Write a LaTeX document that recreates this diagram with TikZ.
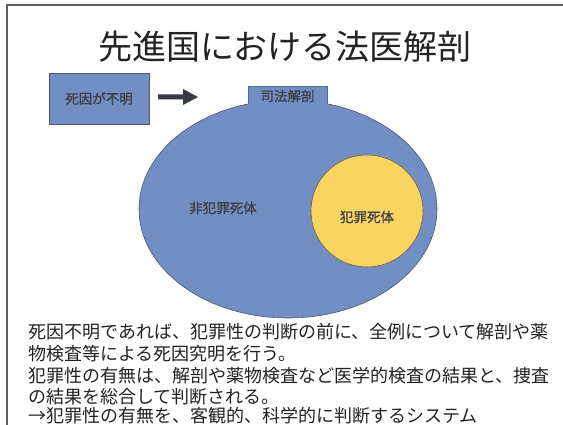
\documentclass[tikz,border=0pt]{standalone}
\usepackage{fontspec}
\setmainfont{Noto Sans CJK JP}
\newfontfamily\lblfont[FakeBold=1.2]{Noto Sans CJK JP}
\usetikzlibrary{shapes.geometric}
\definecolor{boxblue}{RGB}{114,142,194}
\definecolor{boxline}{RGB}{75,88,112}
\definecolor{crimeyellow}{RGB}{250,212,96}
\definecolor{yellowline}{RGB}{110,100,60}
\definecolor{labelgray}{RGB}{62,64,74}
\definecolor{framegray}{RGB}{95,95,95}
\definecolor{bodyink}{RGB}{35,35,35}
\tikzset{
  lbl/.style={text=labelgray, font=\lblfont\fontsize{13.5}{15}\selectfont, inner sep=0pt},
  bodyline/.style={anchor=west, text=bodyink, font=\fontsize{18}{20}\selectfont, inner sep=0pt},
}
\begin{document}
\begin{tikzpicture}[x=1pt,y=-1pt]
\useasboundingbox (0,0) rectangle (563,425);
\fill[white] (0,0) rectangle (563,425);
% frame
\draw[framegray, line width=2pt] (7,426) -- (7,5) -- (564,5);
% title
\node[text=bodyink, font=\fontsize{34}{38}\selectfont, inner sep=0pt] (title) at (285,47) {先進国における法医解剖};
% box
\node[draw=boxline, line width=0.6pt, fill=boxblue, minimum width=100pt, minimum height=51pt, inner sep=0pt] (unknown) at (99,98.5) {};
\node[lbl] (unknownlbl) at (unknown.center) {死因が不明};
% arrow
\fill[labelgray!90!black] (158,94.5) -- (183,94.5) -- (183,89) -- (198,97) -- (183,105) -- (183,99.5) -- (158,99.5) -- cycle;
% ellipse
\node[ellipse, draw=boxline, line width=0.6pt, fill=boxblue, minimum width=298pt, minimum height=218pt, inner sep=0pt] (noncrime) at (288,209) {};
% tab
\fill[boxblue] (248,86) rectangle (327,107);
\draw[boxline!70!boxblue, line width=0.5pt] (248,104) -- (248,86) -- (327,86) -- (327,104);
\node[lbl] (judicial) at (287.5,96) {司法解剖};
% labels
\node[lbl] (noncrimelbl) at (223,208) {非犯罪死体};
\node[circle, draw=yellowline, line width=0.6pt, fill=crimeyellow, minimum size=112pt, inner sep=0pt] (crime) at (367,211) {};
\node[lbl] (crimelbl) at (367,217) {犯罪死体};
% body text
\node[bodyline] (l1) at (28,332) {死因不明であれば、犯罪性の判断の前に、全例について解剖や薬};
\node[bodyline] (l2) at (28,354) {物検査等による死因究明を行う。};
\node[bodyline] (l3) at (28,376) {犯罪性の有無は、解剖や薬物検査など医学的検査の結果と、捜査};
\node[bodyline] (l4) at (28,397) {の結果を総合して判断される。};
\node[bodyline] (l5) at (28,416) {→犯罪性の有無を、客観的、科学的に判断するシステム};
\end{tikzpicture}
\end{document}
